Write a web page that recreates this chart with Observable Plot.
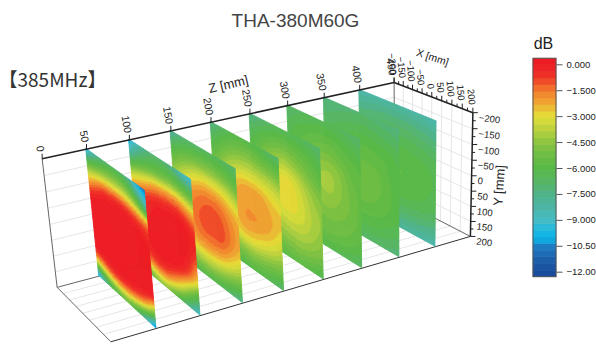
<!DOCTYPE html>
<html><head><meta charset="utf-8">
<style>html,body{margin:0;padding:0;background:#fff}svg{display:block}
svg g[aria-label="area"]{filter:blur(0.35px)}</style>
<script src="https://cdn.jsdelivr.net/npm/d3@7"></script>
<script src="https://cdn.jsdelivr.net/npm/@observablehq/plot@0.6"></script>
</head><body>
<script>
const titleText = "THA-380M60G", freqText = "【385MHz】", unitText = "dB";
const zTicks = [0,50,100,150,200,250,300,350,400,450];
const xTicks = [-200,-150,-100,-50,0,50,100,150,200];
const yTicks = [-200,-150,-100,-50,0,50,100,150,200];
const barTicks = [0,-1.5,-3,-4.5,-6,-7.5,-9,-10.5,-12];
const barLabels = ["0.000","−1.500","−3.000","−4.500","−6.000","−7.500","−9.000","−10.50","−12.00"];
const colorDb  = [0.35,0,-0.75,-1.5,-2.25,-3,-3.75,-4.5,-5.25,-6,-7,-7.5,-8.25,-9,-9.75,-10.2,-10.5,-11.25,-12,-12.3];
const colorHex = ["#ed1c24","#ed1c24","#ef3526","#f37a2c","#efa833","#e3df37","#bcd23e","#8cc540","#6cbc44","#58b947","#55b56d","#4fb289","#4cb5a5","#45bcc4","#16b8e6","#10a6de","#1e7fc4","#1c60ab","#1a4c9c","#1a4c9c"];
const sliceZ = [50,100,150,200,250,300,350,400];
// dB read at x = -200..200 (columns), y = -200..200 (rows), every 50 mm
const s50 = [
[-10,-8.5,-7.5,-6.9,-6.7,-7,-7.8,-10,-10.8],
[-5.2,-4.7,-4.2,-4,-3.9,-4,-4.6,-5.9,-8],
[-2.2,-1.5,-.9,-.7,-.6,-.7,-1,-1.5,-2],
[0,.2,.4,.5,.5,.5,.4,.1,-.3],
[.5,.7,.9,1,1,1,.9,.7,.4],
[.5,.7,.9,1,1,1,.9,.7,.5],
[.2,.3,.4,.5,.6,.5,.4,.3,.2],
[-3,-2.2,-1.5,-1.1,-1,-1.1,-1.5,-2.3,-4],
[-10,-8,-6.5,-5.7,-5.4,-5.7,-6.8,-8.5,-10.5]];
const s100 = [
[-10,-8.8,-7.8,-7.2,-7,-7.2,-7.8,-8.8,-9.5],
[-7.5,-6.5,-5.8,-5.4,-5.2,-5,-5.1,-5.5,-6],
[-4,-3.4,-2.8,-2.2,-1.9,-1.7,-1.7,-2.2,-2.8],
[-1.6,-1.2,-.7,-.3,-.1,0,0,-.3,-.9],
[-.8,-.5,-.1,.1,.3,.3,.2,.1,-.3],
[-.5,-.3,0,.2,.4,.4,.2,-.2,-1.2],
[-1,-.5,-.1,.1,.2,.1,-.3,-1.2,-2.7],
[-3,-2.2,-1.5,-1.1,-1.1,-1.8,-2.9,-4.4,-6],
[-8,-6.5,-5.2,-4.5,-4.5,-5.5,-6.5,-7.8,-9]];
const s150 = [
[-8,-7.5,-7,-6.9,-6.8,-6.7,-6.7,-6.8,-7],
[-6.5,-5.8,-5.4,-5.1,-5,-4.9,-5,-5.3,-5.8],
[-5,-4.3,-3.7,-3.2,-2.9,-2.9,-3,-3.4,-4],
[-4,-3.1,-2.3,-1.8,-1.5,-1.4,-1.6,-2.1,-2.6],
[-3.5,-2.6,-1.8,-1.3,-1.05,-1,-1.1,-1.6,-2.2],
[-3.5,-2.6,-1.9,-1.4,-1.1,-1.05,-1.1,-1.7,-2.4],
[-4.1,-3.3,-2.6,-2.1,-2,-2,-2.2,-2.8,-3.5],
[-5.5,-4.8,-4.2,-3.9,-3.8,-3.9,-4.2,-4.7,-5.2],
[-7.5,-7,-6.4,-6,-6,-6.2,-6.5,-7,-7.5]];
const s200 = [
[-7.5,-7,-6.5,-6.2,-6.1,-6.2,-6.4,-6.8,-7],
[-6.5,-5.9,-5.4,-5,-4.8,-4.8,-5,-5.2,-5.5],
[-5.6,-5,-4.2,-3.7,-3.4,-3.4,-3.5,-3.7,-4],
[-5,-4.2,-3.2,-2.5,-2.2,-2.15,-2.3,-2.7,-3],
[-4.8,-3.9,-2.9,-2.2,-2,-2,-2.05,-2.3,-2.6],
[-5,-4.1,-3,-2.3,-2,-2,-2.15,-2.5,-3.1],
[-5.5,-4.7,-3.8,-3,-2.7,-2.8,-3.1,-3.5,-4],
[-6.2,-5.7,-5.2,-4.7,-4.5,-4.5,-4.7,-5,-5.3],
[-7,-6.8,-6.5,-6.2,-6,-6,-6.2,-6.5,-7]];
const s250 = [
[-7.5,-7.2,-6.9,-6.6,-6.5,-6.5,-6.6,-6.8,-7],
[-6.6,-6.2,-5.8,-5.5,-5.3,-5.4,-5.6,-5.9,-6.3],
[-6,-5.5,-4.8,-4.3,-4.1,-4.3,-4.7,-5.2,-5.7],
[-5.6,-4.9,-4,-3.3,-3,-3.2,-3.8,-4.4,-4.9],
[-5.5,-4.7,-3.8,-3.1,-2.85,-2.95,-3.4,-4,-4.4],
[-5.6,-5,-4.1,-3.4,-3.1,-3.1,-3.4,-3.9,-4.3],
[-5.9,-5.3,-4.6,-4.1,-3.9,-3.8,-3.9,-4.2,-4.6],
[-6.3,-5.9,-5.4,-5,-4.8,-4.7,-4.7,-4.9,-5.2],
[-6.8,-6.6,-6.3,-6,-5.8,-5.7,-5.8,-6.1,-6.4]];
const s300 = [
[-7,-6.8,-6.6,-6.5,-6.4,-6.5,-6.6,-6.8,-7],
[-6.5,-6.2,-6,-5.8,-5.7,-5.7,-5.9,-6.1,-6.4],
[-6.2,-5.9,-5.5,-5.2,-5,-5,-5.3,-5.6,-5.9],
[-6,-5.6,-5,-4.5,-4.3,-4.3,-4.7,-5.3,-5.6],
[-5.9,-5.5,-4.9,-4.4,-4.2,-4.2,-4.6,-5.1,-5.5],
[-6,-5.6,-5.1,-4.7,-4.5,-4.5,-4.8,-5.1,-5.5],
[-6.1,-5.8,-5.4,-5.1,-5,-5,-5.1,-5.3,-5.6],
[-6.4,-6.1,-5.9,-5.6,-5.4,-5.4,-5.5,-5.7,-6],
[-6.9,-6.7,-6.5,-6.3,-6.2,-6.2,-6.3,-6.5,-6.8]];
const s350 = [
[-7.4,-7.3,-7.2,-7.1,-7,-7,-7.1,-7.2,-7.4],
[-6.9,-6.8,-6.6,-6.5,-6.4,-6.4,-6.5,-6.6,-6.8],
[-6.4,-6.3,-6.1,-5.9,-5.8,-5.8,-5.9,-6,-6.3],
[-6.2,-6,-5.7,-5.5,-5.4,-5.4,-5.5,-5.8,-6.1],
[-6.2,-5.9,-5.6,-5.3,-5.15,-5.15,-5.3,-5.7,-6],
[-6.2,-6,-5.7,-5.4,-5.2,-5.2,-5.4,-5.7,-6],
[-6.4,-6.2,-5.9,-5.7,-5.6,-5.6,-5.7,-5.9,-6.2],
[-6.8,-6.6,-6.4,-6.2,-6.1,-6.1,-6.2,-6.4,-6.6],
[-7.3,-7.2,-7,-6.9,-6.8,-6.8,-6.9,-7,-7.2]];
const s400 = [
[-8.4,-8.3,-8.2,-8.2,-8.1,-8.2,-8.2,-8.3,-8.4],
[-7.5,-7.4,-7.3,-7.2,-7.2,-7.2,-7.3,-7.4,-7.6],
[-6.8,-6.7,-6.6,-6.5,-6.5,-6.5,-6.6,-6.7,-6.9],
[-6.4,-6.3,-6.2,-6.1,-6,-6,-6.1,-6.2,-6.4],
[-6.2,-6.1,-6,-5.9,-5.8,-5.8,-5.9,-6,-6.2],
[-6.3,-6.2,-6,-5.9,-5.85,-5.85,-5.9,-6.1,-6.3],
[-6.6,-6.5,-6.4,-6.3,-6.2,-6.2,-6.3,-6.4,-6.6],
[-7.3,-7.2,-7.1,-7,-7,-7,-7.1,-7.2,-7.4],
[-8.3,-8.2,-8.1,-8,-8,-8,-8.1,-8.2,-8.4]];
const sliceGrids = [s50,s100,s150,s200,s250,s300,s350,s400];

// camera calibration of the 3-D box: [x, y, z] -> page position
const boxCorners = [
 [-200,-200,0,41,159],[-200,200,0,57,286],[200,200,0,110,342],[200,-200,0,97,201],
 [-200,-200,450,394,82],[200,-200,450,472,112],[200,200,450,470,236],[-200,200,450,394,197]];
function solve(A,b){const n=b.length,M=A.map((r,i)=>[...r,b[i]]);
 for(let i=0;i<n;i++){let p=i;for(let r=i+1;r<n;r++)if(Math.abs(M[r][i])>Math.abs(M[p][i]))p=r;[M[i],M[p]]=[M[p],M[i]];
  for(let r=0;r<n;r++){if(r===i)continue;const f=M[r][i]/M[i][i];for(let c=i;c<=n;c++)M[r][c]-=f*M[i][c];}}
 return M.map((r,i)=>r[n]/r[i]);}
const cam=(()=>{const rows=[],rhs=[];
 for(const [x,y,z,u,v] of boxCorners){const X=x/200,Y=y/200,Z=z/450;
  rows.push([X,Y,Z,1,0,0,0,0,-u*X,-u*Y,-u*Z]);rhs.push(u);
  rows.push([0,0,0,0,X,Y,Z,1,-v*X,-v*Y,-v*Z]);rhs.push(v);}
 const N=rows[0].map((_,i)=>rows[0].map((_,j)=>d3.sum(rows,r=>r[i]*r[j])));
 const B=rows[0].map((_,i)=>d3.sum(rows,(r,k)=>r[i]*rhs[k]));
 return solve(N,B);})();
function project(x,y,z){const X=x/200,Y=y/200,Z=z/450,w=cam[8]*X+cam[9]*Y+cam[10]*Z+1;
 return [(cam[0]*X+cam[1]*Y+cam[2]*Z+cam[3])/w,(cam[4]*X+cam[5]*Y+cam[6]*Z+cam[7])/w];}

// colour bands
const bandCount=33, barTop=0.35, barBottom=-12.29;
const colorOf=d3.scaleLinear().domain(colorDb).range(colorHex).interpolate(d3.interpolateRgb);
const bandStep=(barTop-barBottom)/bandCount;
const edges=d3.range(bandCount+1).map(i=>barBottom+i*bandStep);
const bandMid=d3.range(bandCount).map(i=>barBottom+(i+.5)*bandStep);
const bandColors=bandMid.map(colorOf);

// filled-contour rendering of a grid: smooth between the read values, snap to bands
function cr(a,t){const n=a.length-1,i=Math.min(Math.floor(t),n-1),f=t-i;
 const p1=a[i],p2=a[i+1],p0=i>0?a[i-1]:2*p1-p2,p3=i<n-1?a[i+2]:2*p2-p1;
 return .5*(2*p1+(p2-p0)*f+(2*p0-5*p1+4*p2-p3)*f*f+(3*p1-p0-3*p2+p3)*f*f*f);}
const band=v=>{const k=d3.bisectRight(edges,v)-1;return Math.max(0,Math.min(bandCount-1,k));};
const quads=[];let qid=0;const dy=4,dx=2;
[...sliceZ.keys()].reverse().forEach(si=>{const z=sliceZ[si],g=sliceGrids[si];
 for(let y=-200;y<200;y+=dy){const ty=(y+dy/2+200)/50;
  const col=d3.range(9).map(c=>cr(g.map(r=>r[c]),ty));
  let x0=-200,cur=band(cr(col,(dx/2)/50));
  for(let x=-200;x<200;x+=dx){const b=band(cr(col,(x+dx/2+200)/50));
   const end=x+dx>=200;
   if(b!==cur||end){const xe=(end&&b===cur)?200:x;
    pushQuad(x0,xe,y,z,cur);
    if(end&&b!==cur)pushQuad(x,200,y,z,b);
    x0=x;cur=b;}}}
});
function pushQuad(xa,xb,y,z,b){const id=qid++,v=bandMid[b];
 const [ax,ay]=project(xa,y,z),[bx,by]=project(xa,y+dy,z),[cx,cy]=project(xb,y,z),[ex,ey]=project(xb,y+dy,z);
 quads.push({id,v,x1:ax,y1:ay,x2:bx,y2:by},{id,v,x1:cx,y1:cy,x2:ex,y2:ey});}

// segments in data space
const seg=(a,b,o={})=>{const p=project(...a),q=project(...b);return {x1:p[0],y1:p[1],x2:q[0],y2:q[1],...o};};
const gridLines=[
 ...yTicks.slice(1,-1).map(y=>seg([-200,y,0],[-200,y,450])),
 ...xTicks.slice(1,-1).map(x=>seg([x,200,0],[x,200,450])),
 ...yTicks.slice(1,-1).map(y=>seg([-200,y,450],[200,y,450])),
 ...xTicks.slice(1,-1).map(x=>seg([x,-200,450],[x,200,450]))];
const thinBox=[seg([-200,-200,0],[-200,200,0]),seg([-200,200,0],[200,200,0]),seg([-200,200,0],[-200,200,450]),seg([-200,-200,450],[-200,200,450]),seg([-200,200,450],[200,200,450])];
const boldBox=[seg([-200,-200,0],[-200,-200,450]),seg([-200,-200,450],[200,-200,450]),seg([200,-200,450],[200,200,450])];
const darkBox=[seg([200,200,0],[200,200,450])];
const mark=(p,dx1,dy1)=>({x1:p[0],y1:p[1],x2:p[0]+dx1,y2:p[1]+dy1});
const ticksAll=[
 ...zTicks.map(z=>mark(project(-200,-200,z),0,-5)),
 ...d3.range(-200,201,25).map(x=>mark(project(x,-200,450),0,x%50?-3:-5)),
 ...d3.range(-200,201,25).map(y=>mark(project(200,y,450),y%50?3:5,0))];
const zLab=zTicks.map(z=>{const p=project(-200,-200,z);return {t:String(z),x:p[0]-1.5,y:p[1]-7};});
const xLab=xTicks.map(x=>{const p=project(x,-200,450);return {t:String(x).replace("-","−"),x:p[0]-1,y:p[1]-8};});
const yLab=yTicks.map(y=>{const p=project(200,y,450);return {t:String(y).replace("-","−"),x:p[0]+6,y:p[1]+5};});

// colour bar
const dbToY=d3.scaleLinear().domain([0,-12]).range([64.3,271.7]);
const barBands=bandMid.map((m,i)=>({v:m,y1:dbToY(edges[i]),y2:dbToY(edges[i+1])}));
const barTickRows=barTicks.map((d,i)=>({y:dbToY(d),t:barLabels[i]}));
const [barL,barR]=[533,556];
const font="'Liberation Sans',Arial,sans-serif";

const chart=Plot.plot({
 width:596,height:345,margin:0,
 x:{domain:[0,596],range:[0,596],axis:null},
 y:{domain:[0,345],range:[0,345],axis:null},
 color:{type:"threshold",domain:edges.slice(1,-1),range:bandColors},
 style:{background:"#fff",fontFamily:font},
 marks:[
  Plot.link(gridLines,{x1:"x1",y1:"y1",x2:"x2",y2:"y2",stroke:"#e6e6e6",strokeWidth:1}),
  Plot.link(thinBox,{x1:"x1",y1:"y1",x2:"x2",y2:"y2",stroke:"#666",strokeWidth:1}),
  Plot.link(darkBox,{x1:"x1",y1:"y1",x2:"x2",y2:"y2",stroke:"#333",strokeWidth:1}),
  Plot.area(quads,{x1:"x1",y1:"y1",x2:"x2",y2:"y2",z:"id",fill:"v",stroke:"v",strokeWidth:0.9}),
  Plot.link(boldBox,{x1:"x1",y1:"y1",x2:"x2",y2:"y2",stroke:"#222",strokeWidth:1.5}),
  Plot.link(ticksAll,{x1:"x1",y1:"y1",x2:"x2",y2:"y2",stroke:"#222",strokeWidth:1}),
  Plot.text(zLab,{x:"x",y:"y",text:"t",rotate:80,textAnchor:"end",fontSize:10.5,fill:"#222"}),
  Plot.text(xLab,{x:"x",y:"y",text:"t",rotate:85,textAnchor:"end",fontSize:9.5,fill:"#222"}),
  Plot.text(yLab,{x:"x",y:"y",text:"t",rotate:7,textAnchor:"start",fontSize:9.5,fill:"#222"}),
  Plot.text([{t:"Z [mm]",x:228,y:84}],{x:"x",y:"y",text:"t",rotate:-13,fontSize:13,fill:"#222"}),
  Plot.text([{t:"X [mm]",x:432,y:57}],{x:"x",y:"y",text:"t",rotate:18,fontSize:10.5,fill:"#222"}),
  Plot.text([{t:"Y [mm]",x:499,y:185}],{x:"x",y:"y",text:"t",rotate:-86,fontSize:13,fill:"#222"}),
  Plot.text([{t:titleText,x:295,y:20}],{x:"x",y:"y",text:"t",fontSize:19,fill:"#444"}),
  Plot.text([{t:freqText,x:-2,y:80}],{x:"x",y:"y",text:"t",textAnchor:"start",fontSize:19,fill:"#333",fontFamily:"'Noto Sans CJK JP',sans-serif"}),
  Plot.text([{t:unitText,x:543,y:43}],{x:"x",y:"y",text:"t",fontSize:16,fill:"#222"}),
  Plot.rect(barBands,{x1:()=>barL,x2:()=>barR,y1:"y1",y2:"y2",fill:"v",stroke:"v",strokeWidth:0.6}),
  Plot.rect([{}],{x1:()=>barL,x2:()=>barR,y1:()=>dbToY(barTop),y2:()=>dbToY(barBottom),fill:"none",stroke:"#555",strokeWidth:1}),
  Plot.link(barTickRows,{x1:()=>barR,x2:()=>barR+6,y1:"y",y2:"y",stroke:"#555",strokeWidth:1}),
  Plot.text(barTickRows,{x:()=>barR+10,y:"y",text:"t",textAnchor:"start",fontSize:9.5,fill:"#222"})
 ]
});
document.body.appendChild(chart);
</script>
</body></html>
